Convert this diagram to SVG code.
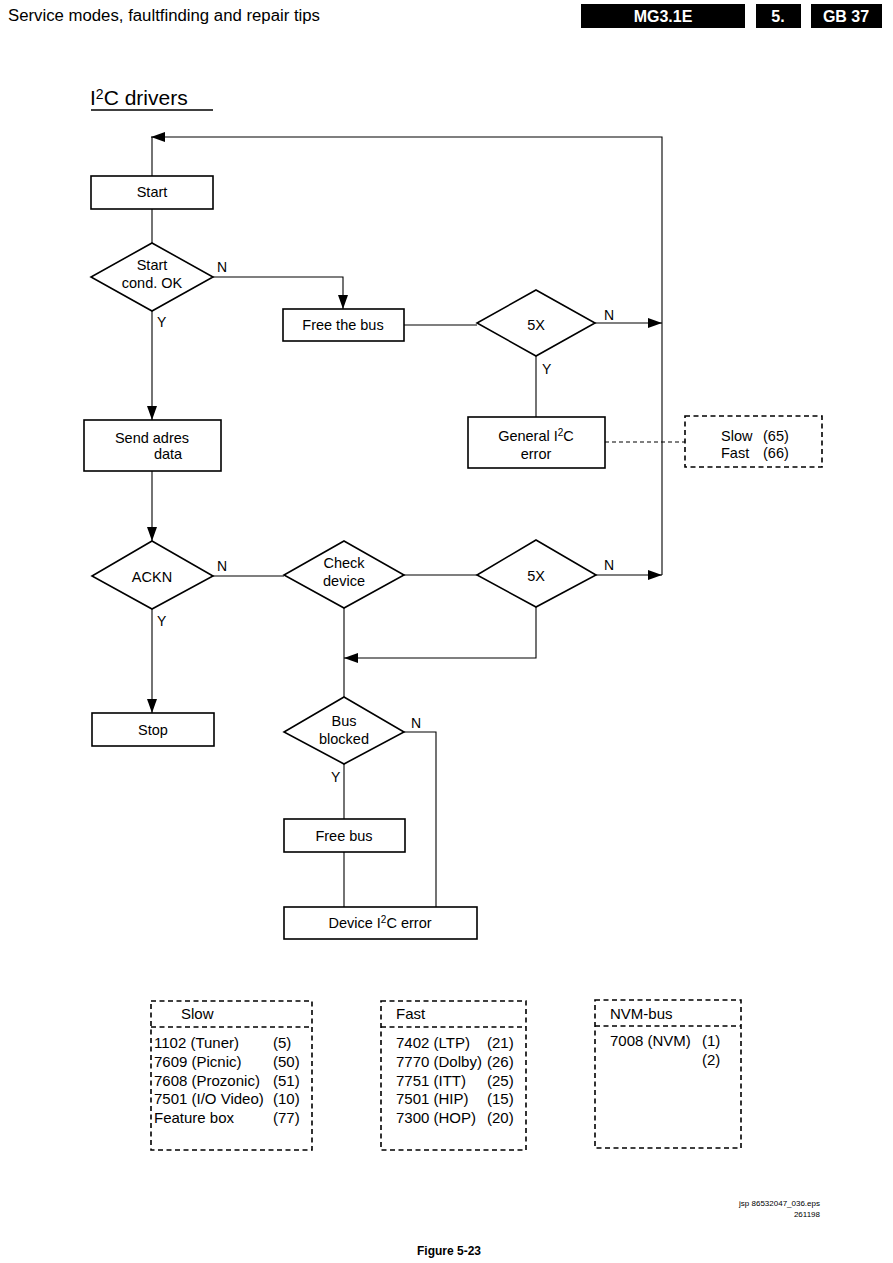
<svg xmlns="http://www.w3.org/2000/svg" width="893" height="1263" viewBox="0 0 893 1263">
<style>
text{font-family:"Liberation Sans",Arial,sans-serif;fill:#000}
.n{font-size:14.5px;text-anchor:middle}
.s{font-size:14.5px}
.l{font-size:14px}
.lst{font-size:15px}
.box{fill:#fff;stroke:#000;stroke-width:1.6}
.dbox{fill:none;stroke:#000;stroke-width:1.6;stroke-dasharray:5,3.5}
.c{fill:none;stroke:#000;stroke-width:1.1}
.hd{fill:#000}
.ht{fill:#fff;font-weight:bold;font-size:16px;text-anchor:middle}
</style>
<defs>
<marker id="ar" viewBox="0 0 14 10" refX="14" refY="5" markerWidth="14" markerHeight="10" markerUnits="userSpaceOnUse" orient="auto">
<path d="M0,0 L14,5 L0,10 Z" fill="#000"/>
</marker>
</defs>
<rect width="893" height="1263" fill="#fff"/>
<g id="header">
<text x="8" y="21" font-size="16" textLength="312" lengthAdjust="spacingAndGlyphs">Service modes, faultfinding and repair tips</text>
<rect class="hd" x="581" y="4" width="164" height="24"/>
<text class="ht" x="663" y="22">MG3.1E</text>
<rect class="hd" x="756" y="4" width="45" height="24"/>
<text class="ht" x="778" y="22">5.</text>
<rect class="hd" x="811" y="4" width="71" height="24"/>
<text class="ht" x="846" y="22">GB 37</text>
</g>
<g id="title">
<text x="90" y="105" font-size="21">I<tspan font-size="14" dy="-6">2</tspan><tspan dy="6">C drivers</tspan></text>
<line x1="91" y1="110" x2="213" y2="110" stroke="#000" stroke-width="1.5"/>
</g>
<g id="connectors">
<path class="c" d="M662,323 V137 H151" marker-end="url(#ar)"/>
<path class="c" d="M152,176 V137"/>
<path class="c" d="M152,209 V243"/>
<path class="c" d="M213,277 H343 V309" marker-end="url(#ar)"/>
<path class="c" d="M404,325 H477"/>
<path class="c" d="M595,323 H662" marker-end="url(#ar)"/>
<path class="c" d="M536,356 V417"/>
<path class="c" d="M605,442 H685" stroke-dasharray="4,3"/>
<path class="c" d="M152,311 V420" marker-end="url(#ar)"/>
<path class="c" d="M152,471 V541" marker-end="url(#ar)"/>
<path class="c" d="M213,576 H284"/>
<path class="c" d="M404,575 H477"/>
<path class="c" d="M662,323 V575"/>
<path class="c" d="M596,575 H662" marker-end="url(#ar)"/>
<path class="c" d="M536,607 V658 H344" marker-end="url(#ar)"/>
<path class="c" d="M344,608 V697"/>
<path class="c" d="M152,609 V713" marker-end="url(#ar)"/>
<path class="c" d="M404,732 H436 V907"/>
<path class="c" d="M344,764 V819"/>
<path class="c" d="M344,852 V907"/>
<text class="l" x="217" y="272">N</text>
<text class="l" x="157" y="327">Y</text>
<text class="l" x="604" y="320">N</text>
<text class="l" x="542" y="374">Y</text>
<text class="l" x="217" y="571">N</text>
<text class="l" x="157" y="626">Y</text>
<text class="l" x="604" y="570">N</text>
<text class="l" x="411" y="728">N</text>
<text class="l" x="331" y="782">Y</text>
</g>
<g id="start">
<rect class="box" x="91" y="176" width="122" height="33"/>
<text class="n" x="152" y="197">Start</text>
</g>
<g id="startcond">
<polygon class="box" points="152,243 213,277 152,311 91,277"/>
<text class="n" x="152" y="270">Start</text>
<text class="n" x="152" y="288">cond. OK</text>
</g>
<g id="freethebus">
<rect class="box" x="283" y="309" width="121" height="32"/>
<text class="n" x="343" y="330">Free the bus</text>
</g>
<g id="fivex1">
<polygon class="box" points="536,290 595,323 536,356 477,323"/>
<text class="n" x="536" y="330">5X</text>
</g>
<g id="generalerror">
<rect class="box" x="468" y="417" width="137" height="51"/>
<text class="n" x="536" y="441">General I<tspan font-size="10" dy="-5">2</tspan><tspan dy="5">C</tspan></text>
<text class="n" x="536" y="459">error</text>
</g>
<g id="slowfast">
<rect class="dbox" x="685" y="416" width="137" height="51"/>
<text class="s" x="721" y="441">Slow</text><text class="s" x="763" y="441">(65)</text>
<text class="s" x="721" y="458">Fast</text><text class="s" x="763" y="458">(66)</text>
</g>
<g id="sendadres">
<rect class="box" x="84" y="420" width="137" height="51"/>
<text class="n" x="152" y="443">Send adres</text>
<text class="n" x="168" y="459">data</text>
</g>
<g id="ackn">
<polygon class="box" points="152,541 213,576 152,609 92,576"/>
<text class="n" x="152" y="582">ACKN</text>
</g>
<g id="checkdevice">
<polygon class="box" points="344,541 404,575 344,608 284,575"/>
<text class="n" x="344" y="568">Check</text>
<text class="n" x="344" y="586">device</text>
</g>
<g id="fivex2">
<polygon class="box" points="536,540 596,575 536,607 477,575"/>
<text class="n" x="536" y="581">5X</text>
</g>
<g id="stop">
<rect class="box" x="92" y="713" width="122" height="33"/>
<text class="n" x="153" y="735">Stop</text>
</g>
<g id="busblocked">
<polygon class="box" points="344,697 404,732 344,764 284,732"/>
<text class="n" x="344" y="726">Bus</text>
<text class="n" x="344" y="744">blocked</text>
</g>
<g id="freebus">
<rect class="box" x="284" y="819" width="121" height="33"/>
<text class="n" x="344" y="841">Free bus</text>
</g>
<g id="deviceerror">
<rect class="box" x="284" y="907" width="193" height="32"/>
<text class="n" x="380" y="928">Device I<tspan font-size="10" dy="-5">2</tspan><tspan dy="5">C error</tspan></text>
</g>
<g id="slowlist">
<rect class="dbox" x="151" y="1001" width="161" height="149"/>
<line class="dbox" x1="151" y1="1027" x2="312" y2="1027"/>
<text class="lst" x="181" y="1019">Slow</text>
<text class="lst" x="154" y="1048">1102 (Tuner)</text><text class="lst" x="273" y="1048">(5)</text>
<text class="lst" x="154" y="1067">7609 (Picnic)</text><text class="lst" x="273" y="1067">(50)</text>
<text class="lst" x="154" y="1086">7608 (Prozonic)</text><text class="lst" x="273" y="1086">(51)</text>
<text class="lst" x="154" y="1104">7501 (I/O Video)</text><text class="lst" x="273" y="1104">(10)</text>
<text class="lst" x="154" y="1123">Feature box</text><text class="lst" x="273" y="1123">(77)</text>
</g>
<g id="fastlist">
<rect class="dbox" x="381" y="1001" width="145" height="149"/>
<line class="dbox" x1="381" y1="1027" x2="526" y2="1027"/>
<text class="lst" x="396" y="1019">Fast</text>
<text class="lst" x="396" y="1048">7402 (LTP)</text><text class="lst" x="487" y="1048">(21)</text>
<text class="lst" x="396" y="1067">7770 (Dolby)</text><text class="lst" x="487" y="1067">(26)</text>
<text class="lst" x="396" y="1086">7751 (ITT)</text><text class="lst" x="487" y="1086">(25)</text>
<text class="lst" x="396" y="1104">7501 (HIP)</text><text class="lst" x="487" y="1104">(15)</text>
<text class="lst" x="396" y="1123">7300 (HOP)</text><text class="lst" x="487" y="1123">(20)</text>
</g>
<g id="nvmlist">
<rect class="dbox" x="595" y="1000" width="146" height="148"/>
<line class="dbox" x1="595" y1="1026" x2="741" y2="1026"/>
<text class="lst" x="610" y="1019">NVM-bus</text>
<text class="lst" x="610" y="1046">7008 (NVM)</text><text class="lst" x="702" y="1046">(1)</text>
<text class="lst" x="702" y="1065">(2)</text>
</g>
<g id="footer">
<text x="820" y="1206" font-size="8" text-anchor="end">jsp 86532047_036.eps</text>
<text x="820" y="1217" font-size="8" text-anchor="end">261198</text>
<text x="449" y="1255" font-size="12" font-weight="bold" text-anchor="middle">Figure 5-23</text>
</g>
</svg>
